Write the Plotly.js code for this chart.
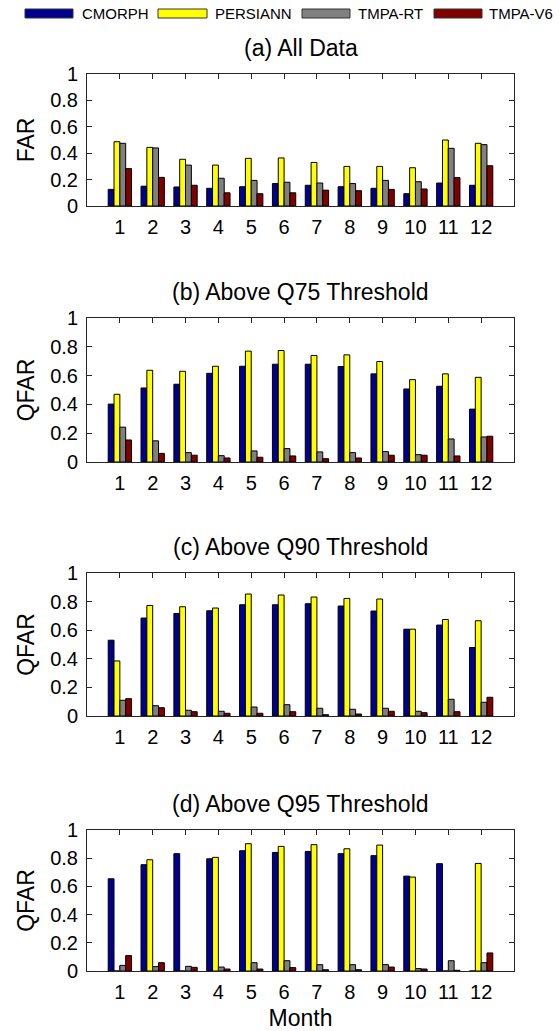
<!DOCTYPE html>
<html>
<head>
<meta charset="utf-8">
<script src="https://cdn.plot.ly/plotly-3.0.1.min.js"></script>
<style>html,body{margin:0;padding:0;background:#fff;}#chart{width:559px;height:1031px;}</style>
</head>
<body>
<div id="chart"></div>
<script>
const months = [1,2,3,4,5,6,7,8,9,10,11,12];
const monthLabels = ['1','2','3','4','5','6','7','8','9','10','11','12'];
const seriesNames = ['CMORPH','PERSIANN','TMPA-RT','TMPA-V6'];
const seriesColors = ['#00008F','#FFFF00','#808080','#800000'];
const panelTitles = ['(a) All Data','(b) Above Q75 Threshold','(c) Above Q90 Threshold','(d) Above Q95 Threshold'];
const panelYTitles = ['FAR','QFAR','QFAR','QFAR'];

// (a) All Data - FAR
const allCMORPH   = [0.126,0.150,0.144,0.134,0.146,0.170,0.157,0.146,0.134,0.093,0.174,0.157];
const allPERSIANN = [0.487,0.444,0.354,0.310,0.361,0.364,0.330,0.300,0.300,0.290,0.500,0.475];
const allTMPART   = [0.475,0.440,0.310,0.210,0.194,0.180,0.174,0.170,0.194,0.184,0.437,0.465];
const allTMPAV6   = [0.283,0.217,0.157,0.100,0.093,0.100,0.120,0.116,0.126,0.129,0.215,0.305];

// (b) Above Q75 - QFAR
const q75CMORPH   = [0.402,0.514,0.540,0.616,0.665,0.679,0.679,0.663,0.612,0.507,0.526,0.367];
const q75PERSIANN = [0.470,0.637,0.630,0.665,0.770,0.774,0.740,0.744,0.698,0.572,0.612,0.588];
const q75TMPART   = [0.242,0.147,0.065,0.044,0.077,0.093,0.070,0.065,0.072,0.051,0.160,0.174];
const q75TMPAV6   = [0.153,0.060,0.047,0.028,0.033,0.042,0.023,0.028,0.047,0.047,0.042,0.179];

// (c) Above Q90 - QFAR
const q90CMORPH   = [0.530,0.685,0.717,0.736,0.778,0.778,0.785,0.769,0.734,0.607,0.636,0.479];
const q90PERSIANN = [0.385,0.773,0.764,0.755,0.853,0.846,0.832,0.822,0.818,0.607,0.675,0.666];
const q90TMPART   = [0.110,0.072,0.040,0.033,0.063,0.079,0.054,0.047,0.054,0.033,0.117,0.096];
const q90TMPAV6   = [0.121,0.058,0.030,0.019,0.019,0.030,0.009,0.014,0.033,0.023,0.030,0.131];

// (d) Above Q95 - QFAR
const q95CMORPH   = [0.654,0.754,0.832,0.796,0.853,0.841,0.848,0.832,0.818,0.673,0.761,0.000];
const q95PERSIANN = [0.000,0.789,0.000,0.806,0.903,0.884,0.896,0.867,0.893,0.666,0.000,0.763];
const q95TMPART   = [0.040,0.031,0.033,0.028,0.059,0.073,0.045,0.045,0.045,0.017,0.073,0.059];
const q95TMPAV6   = [0.109,0.059,0.026,0.014,0.014,0.024,0.009,0.009,0.028,0.014,0.005,0.128];

const panels = [
  [allCMORPH, allPERSIANN, allTMPART, allTMPAV6],
  [q75CMORPH, q75PERSIANN, q75TMPART, q75TMPAV6],
  [q90CMORPH, q90PERSIANN, q90TMPART, q90TMPAV6],
  [q95CMORPH, q95PERSIANN, q95TMPART, q95TMPAV6]
];

const H = 1031, W = 559;
const FONT = 'Liberation Sans, Arial, sans-serif';
const axTops = [74, 318, 573, 830];
const axBots = [206, 462, 716, 971];

const traces = [];
panels.forEach((p, pi) => {
  const suf = pi === 0 ? '' : String(pi + 1);
  p.forEach((vals, si) => {
    traces.push({
      type: 'bar', x: months, y: vals, name: seriesNames[si],
      xaxis: 'x' + suf, yaxis: 'y' + suf,
      marker: {color: seriesColors[si], line: {color: '#000000', width: 1}},
      showlegend: false, hoverinfo: 'x+y+name'
    });
  });
});

const layout = {
  width: W, height: H,
  margin: {l: 87, r: 45, t: 0, b: 0},
  paper_bgcolor: '#ffffff', plot_bgcolor: '#ffffff',
  font: {family: FONT, color: '#000000', size: 20},
  barmode: 'group', bargap: 0.29, bargroupgap: 0,
  showlegend: false,
  annotations: [], shapes: []
};

for (let pi = 0; pi < 4; pi++) {
  const suf = pi === 0 ? '' : String(pi + 1);
  const dom = [1 - axBots[pi] / H, 1 - axTops[pi] / H];
  layout['xaxis' + suf] = {
    domain: [0, 1], anchor: 'y' + suf, range: [0, 13],
    tickmode: 'array', tickvals: months, ticktext: monthLabels,
    ticks: 'inside', ticklen: 5, tickcolor: '#262626',
    showline: true, linecolor: '#262626', linewidth: 1, mirror: 'ticks',
    showgrid: false, zeroline: false, fixedrange: true,
    tickfont: {size: 20, family: FONT, color: '#000'},
    ticklabelstandoff: 3,
    title: pi === 3 ? {text: 'Month', font: {size: 23, family: FONT, color: '#000'}, standoff: 7} : {text: ''}
  };
  layout['yaxis' + suf] = {
    domain: dom, anchor: 'x' + suf, range: [0, 1],
    tickmode: 'linear', tick0: 0, dtick: 0.2,
    ticks: 'inside', ticklen: 5, tickcolor: '#262626',
    showline: true, linecolor: '#262626', linewidth: 1, mirror: 'ticks',
    showgrid: false, zeroline: false, fixedrange: true,
    tickfont: {size: 20, family: FONT, color: '#000'},
    ticklabelstandoff: 4,
    title: {text: panelYTitles[pi], font: {size: 23, family: FONT, color: '#000'}, standoff: 9}
  };
  layout.annotations.push({
    xref: 'paper', yref: 'paper', x: 0.5, y: 1 - (axTops[pi] - 26) / H,
    xanchor: 'center', yanchor: 'middle', showarrow: false,
    text: panelTitles[pi], font: {size: 23, family: FONT, color: '#000'}
  });
}

// Legend drawn at top (boxes + labels)
const legBoxes = [[25, 73], [158, 207], [302, 350], [434, 482]];
const legText = [80, 213, 356, 487];
const plotW = W - 87 - 45;
function px2x(px) { return (px - 87) / plotW; }
seriesNames.forEach((nm, i) => {
  layout.shapes.push({
    type: 'rect', xref: 'paper', yref: 'paper',
    x0: px2x(legBoxes[i][0]), x1: px2x(legBoxes[i][1]),
    y0: 1 - 18 / H, y1: 1 - 9 / H,
    fillcolor: seriesColors[i], line: {color: '#333333', width: 1}
  });
  layout.annotations.push({
    xref: 'paper', yref: 'paper', x: px2x(legText[i]), y: 1 - 13.5 / H,
    xanchor: 'left', yanchor: 'middle', showarrow: false,
    text: nm, font: {size: 15, family: FONT, color: '#000'}
  });
});

Plotly.newPlot('chart', traces, layout, {displayModeBar: false, staticPlot: true});
</script>
</body>
</html>
